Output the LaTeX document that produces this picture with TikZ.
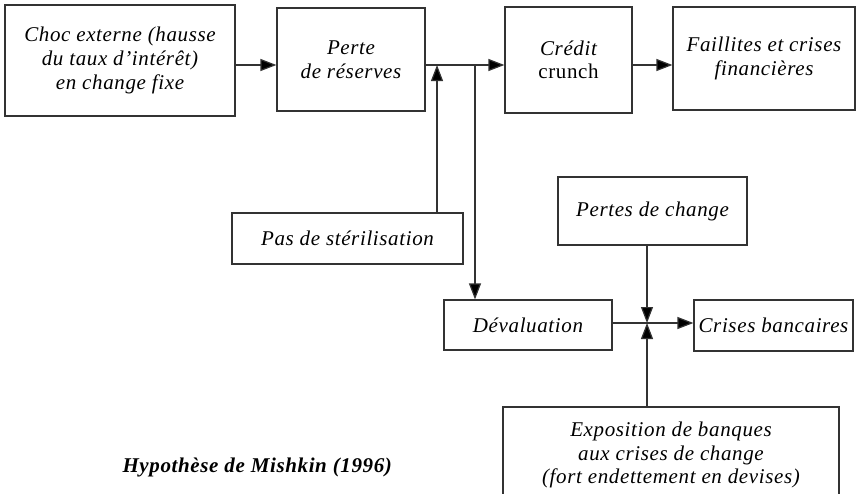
\documentclass[tikz,border=0pt]{standalone}
\usepackage{fontspec}
\setmainfont[LetterSpace=3]{Liberation Serif}
\usepackage{tikz}
\usetikzlibrary{arrows.meta}

\begin{document}
\begin{tikzpicture}[x=0.5pt,y=-0.5pt,
    boite/.style={draw=black!80,line width=0.6pt,align=center,
      font=\fontsize{10.5}{11.8}\selectfont\itshape,inner sep=0pt},
    fleche/.style={draw=black!80,line width=0.6pt,-{Triangle[length=8pt,width=6pt,fill=black]}}]
          \useasboundingbox (0,0) rectangle (856,493);
          \node[boite,minimum width=115pt,minimum height=55.5pt] (choc) at (120,60.5)
            {Choc externe (hausse\\du taux d'intérêt)\\en change fixe};
          \node[boite,minimum width=74pt,minimum height=51.5pt] (perte) at (351,59.5)
            {Perte\\de réserves};
          \node[boite,minimum width=63.5pt,minimum height=53pt] (credit) at (568.5,60)
            {Crédit\\{\upshape crunch}};
          \node[boite,minimum width=91pt,minimum height=51.5pt] (faillites) at (764,58.5)
            {Faillites et crises\\financières};
          \node[boite,minimum width=115.5pt,minimum height=25.5pt] (steril) at (347.5,238.5)
            {Pas de stérilisation};
          \node[boite,minimum width=94.5pt,minimum height=34pt] (pertesch) at (652.5,211)
            {Pertes de change};
          \node[boite,minimum width=84pt,minimum height=25pt] (deval) at (528,325)
            {Dévaluation};
          \node[boite,minimum width=79.5pt,minimum height=25.5pt] (crises) at (773.5,325.5)
            {Crises bancaires};
          \node[boite,minimum width=168pt,minimum height=48pt] (expo) at (671,455)
            {Exposition de banques\\aux crises de change\\(fort endettement en devises)};
          \node[font=\fontsize{10.5}{12}\selectfont\bfseries\itshape,anchor=base east] (legende) at (399,472)
            {Hypothèse de Mishkin (1996)};
          % points de jonction
          \coordinate (j1) at (437,65);
          \coordinate (j2) at (475,65);
          \coordinate (j3) at (647,323);
          \draw[fleche] (choc.east |- j1) -- (perte.west |- j1);
          \draw[draw=black!80,line width=0.6pt] (perte.east |- j1) -- (j2);
          \draw[fleche] (j2) -- (credit.west |- j2);
          \draw[fleche] (credit.east |- j1) -- (faillites.west |- j1);
          \draw[fleche] (steril.north -| j1) -- (j1);
          \draw[fleche] (j2) -- (deval.north -| j2);
          \draw[draw=black!80,line width=0.6pt] (deval.east |- j3) -- (j3);
          \draw[fleche] (j3) -- (crises.west |- j3);
          \draw[fleche] (pertesch.south -| j3) -- (j3);
          \draw[fleche] (expo.north -| j3) -- (j3);
        \end{tikzpicture}
\end{document}
